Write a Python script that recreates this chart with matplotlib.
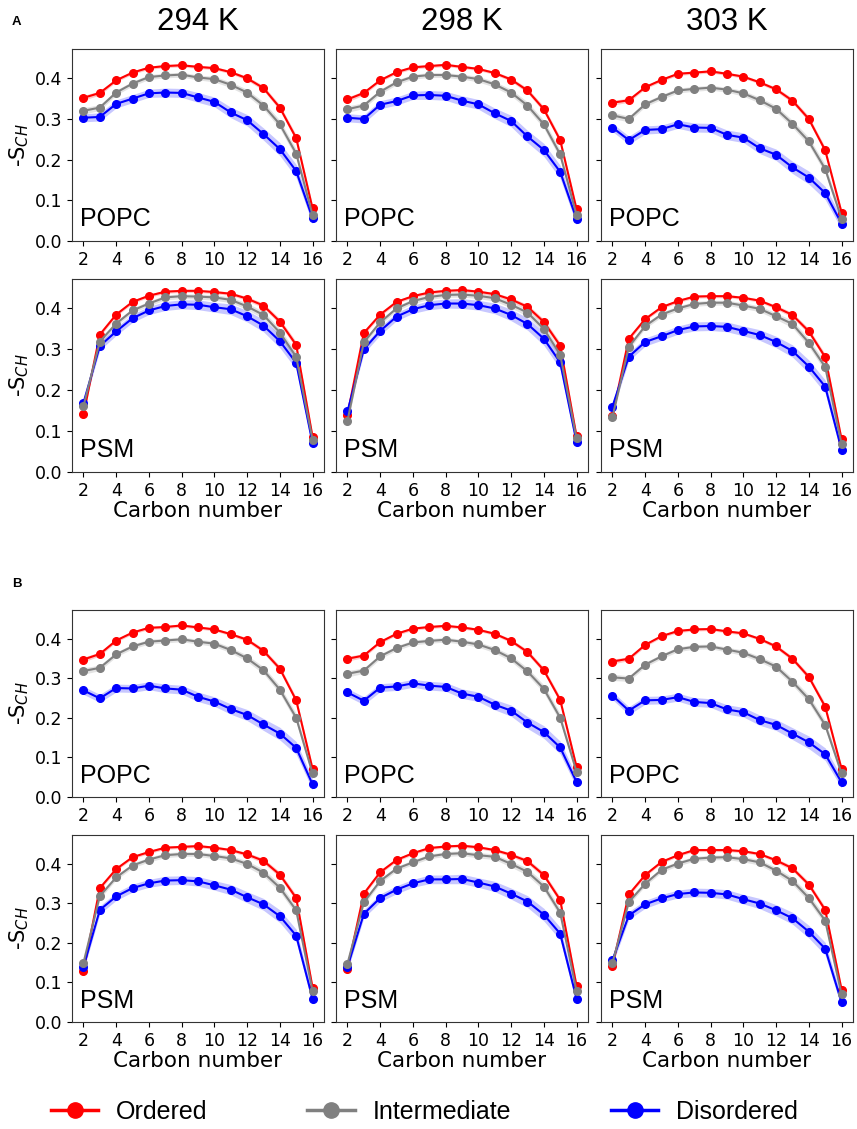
import matplotlib
matplotlib.use('Agg')
import matplotlib.pyplot as plt
from matplotlib.lines import Line2D

carbons = list(range(2, 17))
temps = ['294 K', '298 K', '303 K']
states = ['Ordered', 'Intermediate', 'Disordered']
colors = ['red', 'gray', 'blue']

# ---- A: POPC ----
A_popc_294_ord = [0.352, 0.364, 0.395, 0.414, 0.426, 0.430, 0.432, 0.428, 0.425, 0.415, 0.400, 0.376, 0.328, 0.253, 0.080]
A_popc_294_int = [0.320, 0.328, 0.365, 0.387, 0.403, 0.407, 0.409, 0.402, 0.398, 0.384, 0.365, 0.333, 0.287, 0.215, 0.064]
A_popc_294_dis = [0.303, 0.305, 0.337, 0.350, 0.363, 0.365, 0.364, 0.353, 0.342, 0.316, 0.297, 0.263, 0.226, 0.172, 0.056]

A_popc_298_ord = [0.348, 0.364, 0.395, 0.415, 0.427, 0.430, 0.433, 0.428, 0.423, 0.413, 0.397, 0.370, 0.324, 0.248, 0.078]
A_popc_298_int = [0.324, 0.333, 0.367, 0.390, 0.404, 0.408, 0.408, 0.404, 0.398, 0.385, 0.365, 0.333, 0.287, 0.213, 0.064]
A_popc_298_dis = [0.303, 0.300, 0.335, 0.344, 0.358, 0.359, 0.357, 0.345, 0.336, 0.314, 0.295, 0.257, 0.224, 0.170, 0.054]

A_popc_303_ord = [0.340, 0.346, 0.378, 0.396, 0.411, 0.414, 0.417, 0.411, 0.404, 0.390, 0.373, 0.345, 0.300, 0.223, 0.070]
A_popc_303_int = [0.309, 0.300, 0.336, 0.354, 0.370, 0.374, 0.377, 0.372, 0.363, 0.346, 0.325, 0.288, 0.245, 0.177, 0.055]
A_popc_303_dis = [0.279, 0.248, 0.273, 0.275, 0.287, 0.279, 0.278, 0.261, 0.254, 0.228, 0.212, 0.181, 0.156, 0.118, 0.043]

# ---- A: PSM ----
A_psm_294_ord = [0.141, 0.336, 0.385, 0.416, 0.431, 0.441, 0.443, 0.443, 0.440, 0.436, 0.424, 0.407, 0.368, 0.311, 0.086]
A_psm_294_int = [0.161, 0.319, 0.363, 0.395, 0.412, 0.427, 0.430, 0.429, 0.427, 0.421, 0.405, 0.384, 0.341, 0.282, 0.079]
A_psm_294_dis = [0.169, 0.308, 0.344, 0.376, 0.395, 0.406, 0.410, 0.409, 0.403, 0.398, 0.381, 0.358, 0.320, 0.267, 0.071]

A_psm_298_ord = [0.140, 0.340, 0.385, 0.416, 0.430, 0.439, 0.443, 0.445, 0.441, 0.435, 0.422, 0.404, 0.367, 0.309, 0.087]
A_psm_298_int = [0.125, 0.317, 0.366, 0.400, 0.418, 0.428, 0.433, 0.434, 0.431, 0.425, 0.409, 0.390, 0.350, 0.287, 0.082]
A_psm_298_dis = [0.148, 0.300, 0.345, 0.380, 0.398, 0.408, 0.412, 0.412, 0.408, 0.400, 0.384, 0.362, 0.326, 0.268, 0.074]

A_psm_303_ord = [0.137, 0.326, 0.374, 0.403, 0.418, 0.429, 0.430, 0.430, 0.426, 0.419, 0.403, 0.384, 0.344, 0.281, 0.080]
A_psm_303_int = [0.135, 0.306, 0.357, 0.385, 0.400, 0.411, 0.414, 0.414, 0.407, 0.399, 0.381, 0.362, 0.316, 0.257, 0.069]
A_psm_303_dis = [0.160, 0.282, 0.318, 0.332, 0.347, 0.356, 0.357, 0.355, 0.345, 0.335, 0.318, 0.296, 0.258, 0.209, 0.055]

# ---- B: POPC ----
B_popc_294_ord = [0.347, 0.361, 0.395, 0.415, 0.427, 0.429, 0.433, 0.428, 0.423, 0.411, 0.397, 0.369, 0.324, 0.244, 0.071]
B_popc_294_int = [0.318, 0.326, 0.360, 0.380, 0.392, 0.395, 0.398, 0.392, 0.387, 0.371, 0.350, 0.320, 0.271, 0.200, 0.060]
B_popc_294_dis = [0.269, 0.249, 0.275, 0.274, 0.281, 0.274, 0.271, 0.253, 0.241, 0.222, 0.207, 0.183, 0.160, 0.124, 0.032]

B_popc_298_ord = [0.349, 0.357, 0.391, 0.412, 0.425, 0.429, 0.432, 0.428, 0.422, 0.412, 0.394, 0.366, 0.320, 0.245, 0.076]
B_popc_298_int = [0.311, 0.319, 0.355, 0.376, 0.390, 0.394, 0.397, 0.392, 0.385, 0.371, 0.350, 0.317, 0.273, 0.200, 0.064]
B_popc_298_dis = [0.264, 0.243, 0.276, 0.279, 0.287, 0.281, 0.278, 0.261, 0.253, 0.233, 0.218, 0.188, 0.164, 0.125, 0.038]

B_popc_303_ord = [0.342, 0.349, 0.384, 0.406, 0.419, 0.423, 0.424, 0.418, 0.413, 0.399, 0.380, 0.349, 0.303, 0.228, 0.071]
B_popc_303_int = [0.302, 0.299, 0.334, 0.355, 0.373, 0.379, 0.380, 0.372, 0.364, 0.348, 0.329, 0.291, 0.247, 0.182, 0.060]
B_popc_303_dis = [0.256, 0.218, 0.244, 0.245, 0.252, 0.240, 0.237, 0.221, 0.214, 0.194, 0.182, 0.160, 0.138, 0.108, 0.037]

# ---- B: PSM ----
B_psm_294_ord = [0.129, 0.338, 0.386, 0.416, 0.429, 0.440, 0.442, 0.444, 0.440, 0.434, 0.423, 0.407, 0.372, 0.313, 0.087]
B_psm_294_int = [0.149, 0.318, 0.365, 0.395, 0.410, 0.421, 0.424, 0.424, 0.419, 0.413, 0.399, 0.377, 0.339, 0.282, 0.079]
B_psm_294_dis = [0.139, 0.283, 0.317, 0.338, 0.350, 0.357, 0.358, 0.355, 0.345, 0.334, 0.315, 0.297, 0.267, 0.218, 0.059]

B_psm_298_ord = [0.134, 0.324, 0.378, 0.409, 0.426, 0.439, 0.443, 0.445, 0.441, 0.434, 0.422, 0.406, 0.371, 0.308, 0.091]
B_psm_298_int = [0.147, 0.302, 0.356, 0.387, 0.403, 0.418, 0.424, 0.426, 0.421, 0.417, 0.399, 0.379, 0.342, 0.276, 0.078]
B_psm_298_dis = [0.139, 0.273, 0.313, 0.334, 0.350, 0.360, 0.360, 0.361, 0.352, 0.342, 0.324, 0.304, 0.271, 0.223, 0.059]

B_psm_303_ord = [0.142, 0.322, 0.371, 0.404, 0.421, 0.434, 0.434, 0.434, 0.431, 0.424, 0.408, 0.388, 0.347, 0.283, 0.082]
B_psm_303_int = [0.149, 0.303, 0.349, 0.384, 0.400, 0.412, 0.415, 0.416, 0.411, 0.403, 0.382, 0.356, 0.313, 0.256, 0.070]
B_psm_303_dis = [0.156, 0.269, 0.297, 0.312, 0.323, 0.327, 0.326, 0.322, 0.310, 0.299, 0.282, 0.262, 0.228, 0.185, 0.050]

# band half-widths (std) per state
err_ord = [0.006, 0.005, 0.004, 0.004, 0.004, 0.004, 0.004, 0.004, 0.004, 0.004, 0.005, 0.006, 0.007, 0.008, 0.008]
err_int = [0.008, 0.007, 0.006, 0.006, 0.006, 0.006, 0.006, 0.006, 0.007, 0.007, 0.008, 0.009, 0.010, 0.011, 0.010]
err_dis = [0.010, 0.010, 0.010, 0.010, 0.010, 0.011, 0.011, 0.012, 0.012, 0.013, 0.014, 0.015, 0.016, 0.016, 0.014]

rows = [
    ('POPC', [(A_popc_294_ord, A_popc_294_int, A_popc_294_dis),
              (A_popc_298_ord, A_popc_298_int, A_popc_298_dis),
              (A_popc_303_ord, A_popc_303_int, A_popc_303_dis)]),
    ('PSM', [(A_psm_294_ord, A_psm_294_int, A_psm_294_dis),
             (A_psm_298_ord, A_psm_298_int, A_psm_298_dis),
             (A_psm_303_ord, A_psm_303_int, A_psm_303_dis)]),
    ('POPC', [(B_popc_294_ord, B_popc_294_int, B_popc_294_dis),
              (B_popc_298_ord, B_popc_298_int, B_popc_298_dis),
              (B_popc_303_ord, B_popc_303_int, B_popc_303_dis)]),
    ('PSM', [(B_psm_294_ord, B_psm_294_int, B_psm_294_dis),
             (B_psm_298_ord, B_psm_298_int, B_psm_298_dis),
             (B_psm_303_ord, B_psm_303_int, B_psm_303_dis)]),
]
errs = [err_ord, err_int, err_dis]

W, H = 857, 1129
fig = plt.figure(figsize=(W / 100, H / 100), dpi=100)

col_left = [72, 336, 601]
col_w = 252
row_top = [49, 279, 610, 835]
row_bot = [241, 472, 797, 1022]

sans = ['Liberation Sans', 'DejaVu Sans']

for r, (lipid, panels) in enumerate(rows):
    for c, series in enumerate(panels):
        ax = fig.add_axes([col_left[c] / W, 1 - row_bot[r] / H,
                           col_w / W, (row_bot[r] - row_top[r]) / H])
        # draw order: ordered, disordered, intermediate on top
        for k in [0, 2, 1]:
            y = series[k]
            lo = [v - e for v, e in zip(y, errs[k])]
            hi = [v + e for v, e in zip(y, errs[k])]
            ax.fill_between(carbons, lo, hi, color=colors[k], alpha=0.22, lw=0)
            ax.plot(carbons, y, '-o', color=colors[k], lw=1.5, ms=5.5)
        ax.set_ylim(0, 0.472)
        ax.set_xlim(1.3, 16.7)
        ax.set_xticks(range(2, 17, 2))
        ax.set_yticks([0.0, 0.1, 0.2, 0.3, 0.4])
        ax.tick_params(labelsize=12.5)
        if c == 0:
            ax.set_ylabel('-S$_{CH}$', fontsize=15, labelpad=3)
        else:
            ax.set_yticklabels([])
        if r in (1, 3):
            ax.set_xlabel('Carbon number', fontsize=15.5, labelpad=1)
        ax.text(0.03, 0.05, lipid, transform=ax.transAxes, fontsize=18,
                family=sans, va='bottom', ha='left')
        for s in ax.spines.values():
            s.set_color('#333333')
        if r == 0:
            ax.set_title(temps[c], fontsize=22.5, family=sans, pad=14)

fig.text(12 / W, 1 - 25 / H, 'A', fontsize=9.5, fontweight='bold', family=sans)
fig.text(12 / W, 1 - 587 / H, 'B', fontsize=9.5, fontweight='bold', family=sans)

handles = [Line2D([0], [0], color=colors[k], lw=2.5, marker='o', ms=11) for k in range(3)]
fig.legend(handles, states, loc='center', bbox_to_anchor=(0.495, 1 - 1112 / H),
           ncol=3, frameon=False, prop={'family': sans, 'size': 18},
           handlelength=1.9, handletextpad=0.7, columnspacing=4.0)

fig.savefig('out.png', dpi=100)
